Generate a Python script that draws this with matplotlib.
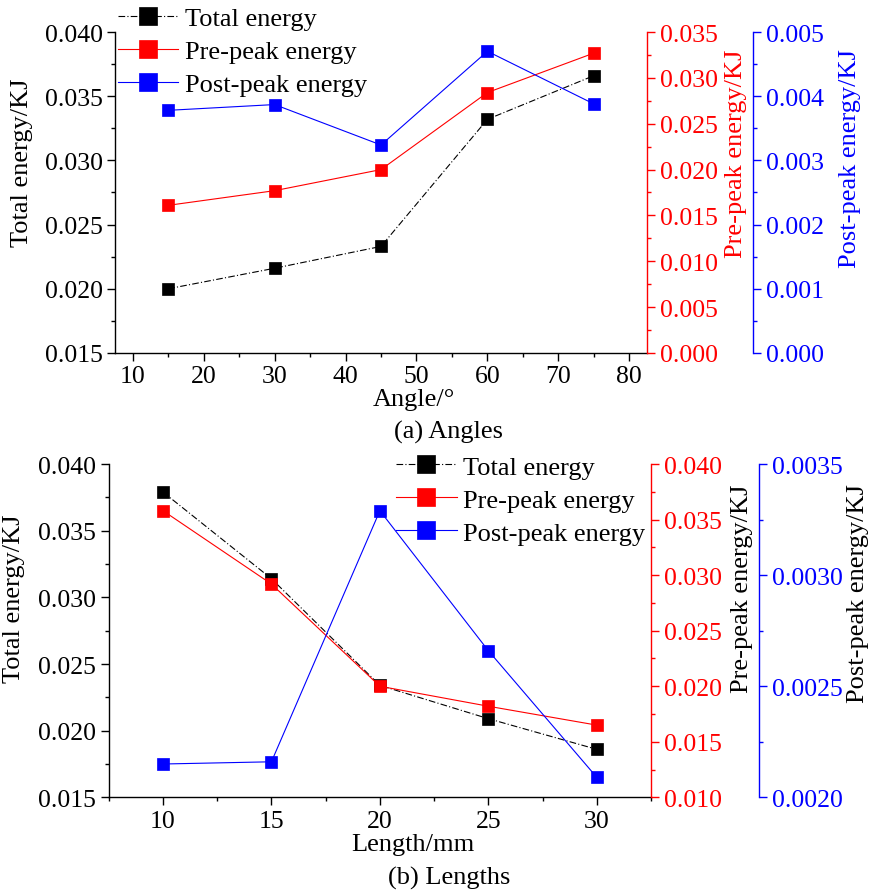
import matplotlib.pyplot as plt
from matplotlib.ticker import MultipleLocator, FormatStrFormatter

plt.rcParams['font.family'] = ['Liberation Serif', 'DejaVu Serif']
plt.rcParams['font.size'] = 19
plt.rcParams['xtick.labelsize'] = 18.5
plt.rcParams['ytick.labelsize'] = 18.5

# (a) energy vs. joint angle
angles = [15, 30, 45, 60, 75]
angle_total = [0.0200, 0.0216, 0.0233, 0.0332, 0.0366]
angle_pre = [0.0161, 0.0177, 0.0200, 0.0284, 0.0327]
angle_post = [0.00378, 0.00387, 0.00324, 0.00470, 0.00388]

# (b) energy vs. joint length
lengths = [10, 15, 20, 25, 30]
length_total = [0.0379, 0.0314, 0.0234, 0.0209, 0.0186]
length_pre = [0.0358, 0.0292, 0.0200, 0.0182, 0.0165]
length_post = [0.00215, 0.00216, 0.00329, 0.00266, 0.00209]

series_names = ['Total energy', 'Pre-peak energy', 'Post-peak energy']

fig = plt.figure(figsize=(8.7, 8.95), dpi=100)


def style_ticks(ax, color):
    ax.tick_params(which='both', direction='out', width=1, colors=color)
    ax.tick_params(which='major', length=5.5)
    ax.tick_params(which='minor', length=3)


def panel(rect, x, total, pre, post, xlim, xstep, pre_lim, post_lim, post_fmt,
          xlabel, xlabel_pos, right_label_color, label_y):
    ax = fig.add_axes(rect)
    ax_pre = ax.twinx()
    ax_post = ax.twinx()

    kw = dict(marker='s', markersize=8.5, markeredgewidth=0.5, linewidth=0.8)
    l1, = ax.plot(x, total, color='black', linestyle=(0, (6, 2, 1, 2)), **kw)
    l2, = ax_pre.plot(x, pre, color='red', **kw)
    l3, = ax_post.plot(x, post, color='blue', **kw)

    ax.set_xlim(*xlim)
    ax.set_ylim(0.015, 0.040)
    ax.xaxis.set_major_locator(MultipleLocator(xstep))
    ax.xaxis.set_minor_locator(MultipleLocator(xstep / 2))
    ax.yaxis.set_major_locator(MultipleLocator(0.005))
    ax.yaxis.set_minor_locator(MultipleLocator(0.0025))
    ax.yaxis.set_major_formatter(FormatStrFormatter('%.3f'))
    for s in ['top', 'right']:
        ax.spines[s].set_visible(False)
    for s in ['left', 'bottom']:
        ax.spines[s].set_linewidth(1)
    style_ticks(ax, 'black')

    ax_pre.set_ylim(*pre_lim)
    ax_pre.yaxis.set_major_locator(MultipleLocator(0.005))
    ax_pre.yaxis.set_minor_locator(MultipleLocator(0.0025))
    ax_pre.yaxis.set_major_formatter(FormatStrFormatter('%.3f'))

    ax_post.set_ylim(*post_lim)
    ax_post.spines['right'].set_position(('axes', 1.2))
    step = 0.001 if post_lim[1] - post_lim[0] > 0.002 else 0.0005
    ax_post.yaxis.set_major_locator(MultipleLocator(step))
    ax_post.yaxis.set_minor_locator(MultipleLocator(step / 2))
    ax_post.yaxis.set_major_formatter(FormatStrFormatter(post_fmt))

    for tw, col in [(ax_pre, 'red'), (ax_post, 'blue')]:
        for s in ['top', 'left', 'bottom']:
            tw.spines[s].set_visible(False)
        tw.spines['right'].set_color(col)
        tw.spines['right'].set_linewidth(1)
        style_ticks(tw, col)

    ax.set_xlabel(xlabel)
    ax.xaxis.label.set_va('center')
    ax.xaxis.set_label_coords(*xlabel_pos)

    ax.set_ylabel('Total energy/KJ')
    ax_pre.set_ylabel('Pre-peak energy/KJ',
                      color=right_label_color[0])
    ax_post.set_ylabel('Post-peak energy/KJ',
                       color=right_label_color[1])
    for a, xc, yc in [(ax, -0.175, label_y[0]), (ax_pre, 1.168, label_y[1]),
                      (ax_post, 1.382, label_y[2])]:
        a.yaxis.label.set_va('center')
        a.yaxis.set_label_coords(xc, yc)

    return ax_post, [l1, l2, l3]


legend_kw = dict(loc='upper left', frameon=False, markerscale=1.5,
                 handlelength=2.3, handletextpad=0.25, labelspacing=0.36,
                 borderpad=0.2, fontsize=19)

# top panel
ax_a, handles_a = panel([0.1322, 0.6045, 0.6115, 0.3586], angles,
                        angle_total, angle_pre, angle_post,
                        (7.5, 82.5), 10, (0.0, 0.035), (0.0, 0.005), '%.3f',
                        'Angle/°', (0.562, -0.143), ('red', 'blue'),
                        (0.595, 0.623, 0.61))
fig.legend(handles_a, series_names, bbox_to_anchor=(0.114, 1.012),
           **legend_kw)
fig.text(449 / 870, 1 - 432 / 895, '(a) Angles', ha='center', va='center')

# bottom panel
ax_b, handles_b = panel([0.125, 0.108, 0.6233, 0.3724], lengths,
                        length_total, length_pre, length_post,
                        (7.5, 32.5), 5, (0.010, 0.040), (0.0020, 0.0035),
                        '%.4f', 'Length/mm', (0.56, -0.14),
                        ('black', 'black'), (0.60, 0.628, 0.614))
fig.legend(handles_b, series_names, bbox_to_anchor=(0.434, 0.511),
           **legend_kw)
fig.text(449 / 870, 1 - 878 / 895, '(b) Lengths', ha='center', va='center')

fig.savefig('out.png', dpi=100)
